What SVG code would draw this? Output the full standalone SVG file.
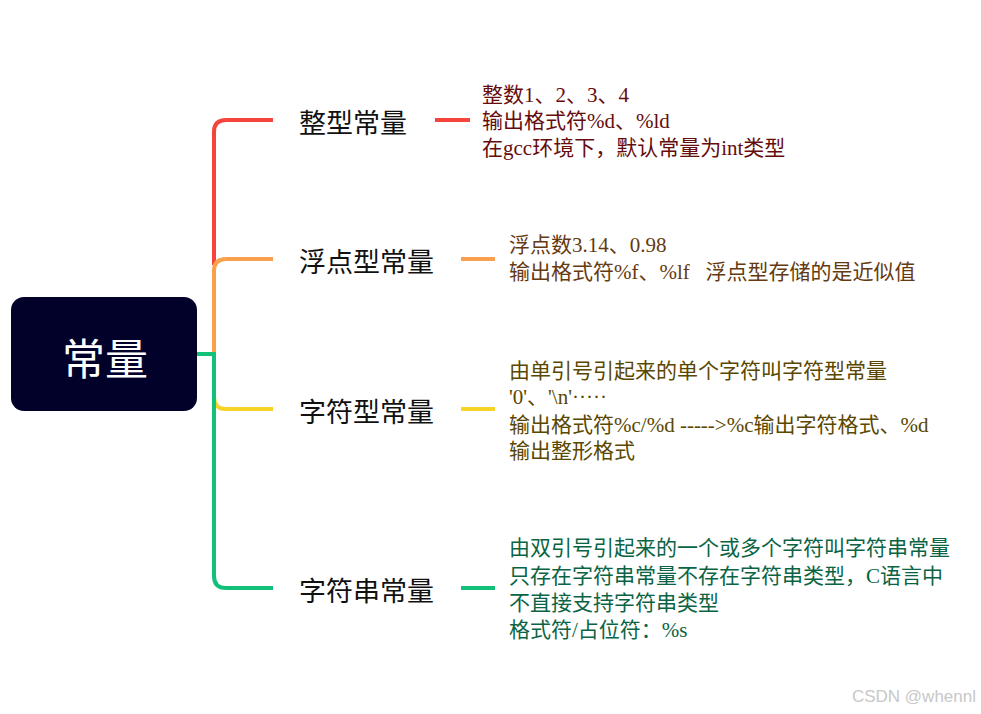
<svg xmlns="http://www.w3.org/2000/svg" width="981" height="714" viewBox="0 0 981 714">
<style>
.c{fill:none;stroke-width:4;stroke-linecap:butt}
.lbl{font-family:"Noto Sans CJK SC","Noto Sans",sans-serif;font-size:27px;fill:#111;dominant-baseline:central}
.d{font-family:"Liberation Serif","Noto Sans CJK SC",serif;font-size:21px}
</style>
<rect width="981" height="714" fill="#fff"/>
<g id="connectors">
<path class="c" stroke="#f5443b" d="M214 265V132Q214 120 226 120H273"/>
<path class="c" stroke="#f8a04b" d="M214 353V271Q214 259 226 259H273"/>
<path class="c" stroke="#f5d327" d="M214 353V397Q214 409 226 409H273"/>
<path class="c" stroke="#13c07a" d="M197 354H214V576Q214 588 226 588H273"/>
<path class="c" stroke="#f5443b" d="M435 120H470"/>
<path class="c" stroke="#f8a04b" d="M461 259H495"/>
<path class="c" stroke="#f5d327" d="M461 409H495"/>
<path class="c" stroke="#13c07a" d="M461 588H495"/>
</g>
<g id="root">
<rect x="11" y="297" width="186" height="114" rx="13" fill="#02012a"/>
<text x="105" y="356" text-anchor="middle" dominant-baseline="central" font-family="Noto Sans CJK SC,sans-serif" font-size="43" fill="#fff">常量</text>
</g>
<g id="n1"><text class="lbl" x="299" y="121">整型常量</text></g>
<g id="n2"><text class="lbl" x="299" y="260">浮点型常量</text></g>
<g id="n3"><text class="lbl" x="299" y="410">字符型常量</text></g>
<g id="n4"><text class="lbl" x="299" y="589">字符串常量</text></g>
<g id="d1" class="d" fill="#660c0c">
<text x="482" y="102">整数1、2、3、4</text>
<text x="482" y="128">输出格式符%d、%ld</text>
<text x="482" y="155">在gcc环境下，默认常量为int类型</text>
</g>
<g id="d2" class="d" fill="#653a10">
<text x="509" y="252">浮点数3.14、0.98</text>
<text x="509" y="279" xml:space="preserve">输出格式符%f、%lf   浮点型存储的是近似值</text>
</g>
<g id="d3" class="d" fill="#5a4700">
<text x="509" y="378">由单引号引起来的单个字符叫字符型常量</text>
<text x="509" y="404">'0'、'\n'·····</text>
<text x="509" y="432">输出格式符%c/%d -----&gt;%c输出字符格式、%d</text>
<text x="509" y="458">输出整形格式</text>
</g>
<g id="d4" class="d" fill="#0a6444">
<text x="509" y="555">由双引号引起来的一个或多个字符叫字符串常量</text>
<text x="509" y="583">只存在字符串常量不存在字符串类型，C语言中</text>
<text x="509" y="610">不直接支持字符串类型</text>
<text x="509" y="637">格式符/占位符：%s</text>
</g>
<text x="976" y="702" text-anchor="end" font-family="Liberation Sans,Arial,sans-serif" font-size="17" fill="#c8c8c8">CSDN @whennl</text>
</svg>
